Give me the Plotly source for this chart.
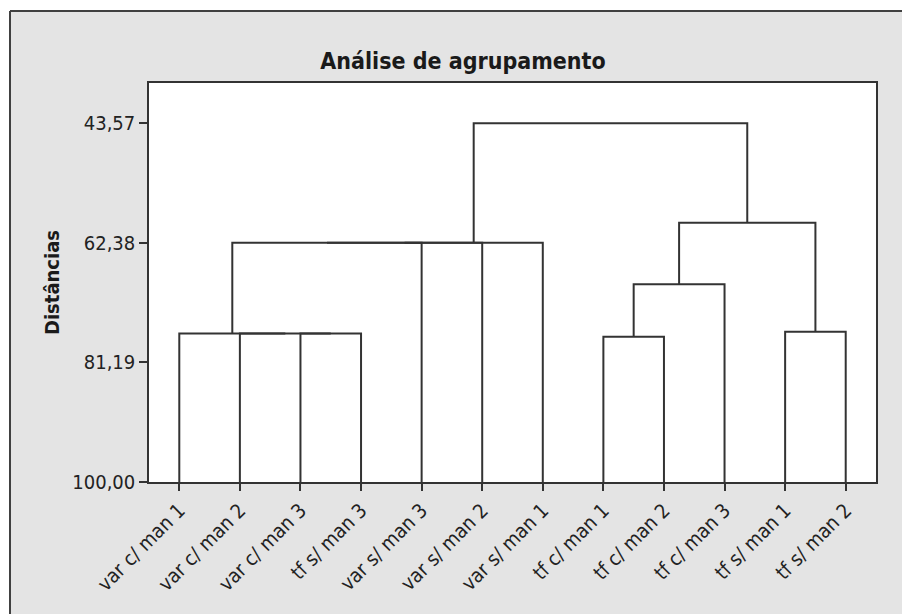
import plotly.graph_objects as go

# ---- data ----
leaves = ["var c/ man 1", "var c/ man 2", "var c/ man 3", "tf s/ man 3",
          "var s/ man 3", "var s/ man 2", "var s/ man 1",
          "tf c/ man 1", "tf c/ man 2", "tf c/ man 3", "tf s/ man 1", "tf s/ man 2"]
# merges (scipy-like): node ids 0..11 are leaves, 12.. are merged clusters
merge_a = [2, 1, 0, 14, 15, 16, 7, 18, 10, 19, 17]
merge_b = [3, 12, 13, 4, 5, 6, 8, 9, 11, 20, 21]
merge_h = [76.63, 76.63, 76.63, 62.38, 62.38, 62.38, 77.16, 68.88, 76.37, 59.24, 43.57]
ytick_vals = [43.57, 62.38, 81.19, 100.00]
ytick_text = ["43,57", "62,38", "81,19", "100,00"]

# ---- build dendrogram segments from the tree ----
pos = [i + 1 for i in range(len(leaves))]
hgt = [100.0] * len(leaves)
xs, ys = [], []
for a, b, h in zip(merge_a, merge_b, merge_h):
    xs += [pos[a], pos[a], pos[b], pos[b], None]
    ys += [hgt[a], h, h, hgt[b], None]
    pos.append((pos[a] + pos[b]) / 2)
    hgt.append(h)

# page has an 8px body margin, so the figure is drawn at offset (8, 8)
W, H = 902, 606
L, R, T, B = 141, 34, 75, 132
pw, ph = W - L - R, H - T - B

def px_x(p):
    return (p - L) / pw

def px_y(p):
    return (H - B - p) / ph

font = "DejaVu Sans Condensed, DejaVu Sans, sans-serif"
gray = "#e4e4e4"
dark = "#404040"

fig = go.Figure()
fig.add_trace(go.Scatter(x=xs, y=ys, mode="lines",
                         line=dict(color="#333333", width=2),
                         hoverinfo="skip", showlegend=False))

shapes = [
    # white strips outside the gray frame
    dict(type="rect", xref="paper", yref="paper", x0=px_x(-5), x1=px_x(2),
         y0=px_y(H + 5), y1=px_y(-5), fillcolor="white", line=dict(width=0), layer="below"),
    dict(type="rect", xref="paper", yref="paper", x0=px_x(-5), x1=px_x(W + 5),
         y0=px_y(3), y1=px_y(-5), fillcolor="white", line=dict(width=0), layer="below"),
    # frame border lines (top and left)
    dict(type="line", xref="paper", yref="paper", x0=px_x(2), x1=px_x(W + 5),
         y0=px_y(3), y1=px_y(3), line=dict(color=dark, width=2)),
    dict(type="line", xref="paper", yref="paper", x0=px_x(2), x1=px_x(2),
         y0=px_y(3), y1=px_y(H + 5), line=dict(color=dark, width=2)),
]

fig.update_layout(
    width=W, height=H,
    margin=dict(l=L, r=R, t=T, b=B),
    paper_bgcolor=gray, plot_bgcolor="white",
    shapes=shapes,
    title=dict(text="<b>Análise de agrupamento</b>", x=455 / W, xref="container",
               xanchor="center", y=1 - 53 / H, yref="container", yanchor="middle",
               font=dict(family=font, size=23, color="#1a1a1a")),
    font=dict(family=font, color="#222222"),
    xaxis=dict(range=[0.5, len(leaves) + 0.5], tickmode="array",
               tickvals=list(range(1, len(leaves) + 1)), ticktext=leaves,
               tickangle=-45, ticks="outside", ticklen=7, tickwidth=1.5, tickcolor="#333",
               showline=True, linecolor="#333", linewidth=1.5, mirror=True,
               showgrid=False, zeroline=False, tickfont=dict(size=20, family=font, color="#222")),
    yaxis=dict(range=[100, 37.24], tickmode="array", tickvals=ytick_vals, ticktext=ytick_text,
               ticks="outside", ticklen=8, tickwidth=1.5, tickcolor="#333",
               showline=True, linecolor="#333", linewidth=1.5, mirror=True,
               showgrid=False, zeroline=False, tickfont=dict(size=20, family=font, color="#222")),
)
fig.update_yaxes(title=dict(text="<b>Distâncias</b>", standoff=7,
                            font=dict(size=20, family=font, color="#1a1a1a")))

fig.write_html("out.html")
